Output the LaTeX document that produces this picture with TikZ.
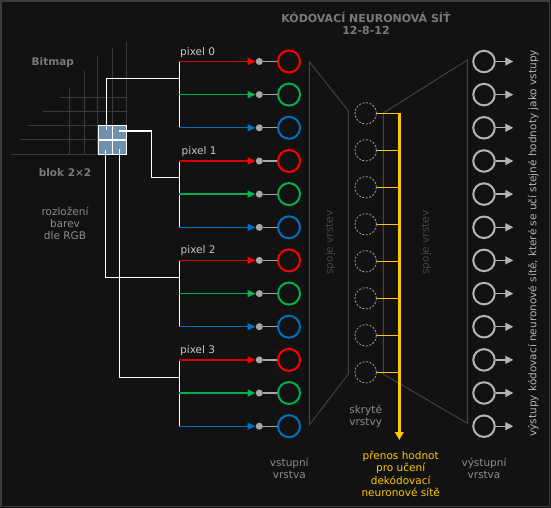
\documentclass[tikz,border=0pt]{standalone}
\usepackage{fontspec}
\setmainfont{DejaVu Sans}
\usetikzlibrary{arrows.meta}

\definecolor{bgc}{HTML}{121212}
\definecolor{framec}{HTML}{3C3C3C}
\definecolor{gridc}{HTML}{3A3A3A}
\definecolor{blockc}{HTML}{7090B0}
\definecolor{rc}{HTML}{FF0000}
\definecolor{gc}{HTML}{00B050}
\definecolor{bc}{HTML}{0070C0}
\definecolor{dotc}{HTML}{A8A8A8}
\definecolor{hidc}{HTML}{A0A0A0}
\definecolor{outc}{HTML}{B4B4B4}
\definecolor{trapc}{HTML}{444444}
\definecolor{yc}{HTML}{FFC800}
\definecolor{txtc}{HTML}{8C8C8C}

\begin{document}
\begin{tikzpicture}[x=1pt,y=-1pt,
  every node/.style={font=\fontsize{10.5pt}{12pt}\selectfont},
  inn/.style={circle, draw, line width=2pt, minimum size=22pt, inner sep=0pt},
  dot/.style={circle, fill=dotc, minimum size=7pt, inner sep=0pt},
  hid/.style={circle, draw=hidc, dash pattern=on 2pt off 1.6pt, line width=.8pt, minimum size=21.5pt, inner sep=0pt},
  outn/.style={circle, draw=outc, line width=2pt, minimum size=21.5pt, inner sep=0pt},
  blk/.style={rectangle, fill=blockc, draw=white, line width=1.2pt, minimum size=28.5pt, inner sep=0pt},
  wire/.style={white, line width=1.3pt},
  stub/.style={dotc, line width=1.2pt},
  rarr/.style={draw=rc!85!black, line width=1.3pt, -{Triangle[length=8pt,width=7pt,color=rc]}},
  garr/.style={draw=gc, line width=1.3pt, -{Triangle[length=8pt,width=7pt]}},
  barr/.style={draw=bc, line width=1.3pt, -{Triangle[length=8pt,width=7pt]}},
  oarr/.style={draw=outc, line width=1.3pt, -{Triangle[length=8pt,width=8pt]}},
  trap/.style={trapc, line width=.9pt},
  ybus/.style={yc, line width=2.7pt, -{Triangle[length=8pt,width=8.5pt]}},
  ytap/.style={yc, line width=1pt},
  pixl/.style={anchor=west, text=white!78!black, inner sep=0pt},
  lbl/.style={align=center, text=txtc, inner sep=0pt},
  bold/.style={text=white!48!black, font=\fontsize{10.5pt}{12.5pt}\selectfont\bfseries, align=center, inner sep=0pt},
  spj/.style={text=trapc, inner sep=0pt}]

 \useasboundingbox (0,0) rectangle (551,508);
 \fill[bgc] (0,0) rectangle (551,508);
 \draw[framec, line width=1.5pt] (1,1) rectangle (549.5,506.5);

 \node (ttl) [bold, font=\fontsize{11pt}{12pt}\selectfont\bfseries] at (366,23) {KÓDOVACÍ NEURONOVÁ SÍŤ\\12-8-12};
 \node (bmp) [bold] at (52.8,62.3) {Bitmap};
 \node (blok) [bold] at (65,173) {blok 2×2};
 \node (rgb) [lbl] at (65,223.5) {rozložení\\barev\\dle RGB};

 \draw[gridc, line width=1pt] (60,97.3) -- (126.7,97.3) (43,111.7) -- (126.7,111.7)
   (28,125.7) -- (98,125.7) (20,139.3) -- (98,139.3) (11,154.3) -- (98,154.3)
   (69.3,88) -- (69.3,154.3) (84.7,71) -- (84.7,154.3) (97.3,56) -- (97.3,154.3)
   (112.3,48) -- (112.3,125.7) (126.3,41.7) -- (126.3,125.7);

 \coordinate (p0) at (179.3,78.7);
 \coordinate (p1) at (179.3,177.3);
 \coordinate (p2) at (179.3,277.3);
 \coordinate (p3) at (179.3,377.7);
 \coordinate (q0) at (106.3,130);
 \coordinate (q1) at (119.3,131);
 \coordinate (q2) at (105.7,150);
 \coordinate (q3) at (119.3,149.3);
 \coordinate (k1) at (151.7,131);

 \node (blk) [blk] at (112.5,140) {};
 \draw[white, line width=1.2pt] (blk.north) -- (blk.south) (blk.west) -- (blk.east);
 \draw[wire] (q0) |- (p0);
 \draw[wire] (q1) -- (k1) |- (p1);
 \draw[wire] (q2) |- (p2);
 \draw[wire] (q3) |- (p3);

 \node (i0) [inn, draw=rc] at (289,61.5) {};
 \node (i1) [inn, draw=gc] at (289,94.6) {};
 \node (i2) [inn, draw=bc] at (289,127.8) {};
 \node (i3) [inn, draw=rc] at (289,161) {};
 \node (i4) [inn, draw=gc] at (289,194.1) {};
 \node (i5) [inn, draw=bc] at (289,227.3) {};
 \node (i6) [inn, draw=rc] at (289,260.4) {};
 \node (i7) [inn, draw=gc] at (289,293.6) {};
 \node (i8) [inn, draw=bc] at (289,326.7) {};
 \node (i9) [inn, draw=rc] at (289,359.9) {};
 \node (i10) [inn, draw=gc] at (289,393) {};
 \node (i11) [inn, draw=bc] at (289,426.2) {};

 \node (d0) [dot] at (259.3,61.5) {};
 \node (d1) [dot] at (259.3,94.6) {};
 \node (d2) [dot] at (259.3,127.8) {};
 \node (d3) [dot] at (259.3,161) {};
 \node (d4) [dot] at (259.3,194.1) {};
 \node (d5) [dot] at (259.3,227.3) {};
 \node (d6) [dot] at (259.3,260.4) {};
 \node (d7) [dot] at (259.3,293.6) {};
 \node (d8) [dot] at (259.3,326.7) {};
 \node (d9) [dot] at (259.3,359.9) {};
 \node (d10) [dot] at (259.3,393) {};
 \node (d11) [dot] at (259.3,426.2) {};

 \draw[stub] (d0) -- (i0) (d1) -- (i1) (d2) -- (i2) (d3) -- (i3) (d4) -- (i4) (d5) -- (i5);
 \draw[stub] (d6) -- (i6) (d7) -- (i7) (d8) -- (i8) (d9) -- (i9) (d10) -- (i10) (d11) -- (i11);

 \draw[wire] (i0 -| p0) -- (i2 -| p0);
 \draw[wire] (i3 -| p1) -- (i5 -| p1);
 \draw[wire] (i6 -| p2) -- (i8 -| p2);
 \draw[wire] (i9 -| p3) -- (i11 -| p3);

 \draw[rarr] (i0 -| p0) -- (d0);
 \draw[garr] (i1 -| p0) -- (d1);
 \draw[barr] (i2 -| p0) -- (d2);
 \draw[rarr] (i3 -| p1) -- (d3);
 \draw[garr] (i4 -| p1) -- (d4);
 \draw[barr] (i5 -| p1) -- (d5);
 \draw[rarr] (i6 -| p2) -- (d6);
 \draw[garr] (i7 -| p2) -- (d7);
 \draw[barr] (i8 -| p2) -- (d8);
 \draw[rarr] (i9 -| p3) -- (d9);
 \draw[garr] (i10 -| p3) -- (d10);
 \draw[barr] (i11 -| p3) -- (d11);

 \node (px0) [pixl] at (180,52.3) {pixel 0};
 \node (px1) [pixl] at (181.5,151.3) {pixel 1};
 \node (px2) [pixl] at (180.5,250.7) {pixel 2};
 \node (px3) [pixl] at (180,351) {pixel 3};

 \draw[trap] (309.3,61.7) -- (348.3,110.7) -- (348.3,374) -- (309.3,425) -- cycle;
 \draw[trap] (383.3,113) -- (467.3,60) -- (467.3,423.3) -- (383.3,374) -- cycle;
 \node (sp0) [spj, rotate=90] at (330,242.5) {spoje vrstev};
 \node (sp1) [spj, rotate=90] at (426,242.5) {spoje vrstev};

 \node (h0) [hid] at (365.7,113.3) {};
 \node (h1) [hid] at (365.7,150.3) {};
 \node (h2) [hid] at (365.7,187.3) {};
 \node (h3) [hid] at (365.7,224.3) {};
 \node (h4) [hid] at (365.7,261.3) {};
 \node (h5) [hid] at (365.7,298.3) {};
 \node (h6) [hid] at (365.7,335.3) {};
 \node (h7) [hid] at (365.7,372.3) {};

 \coordinate (yt) at (399.3,113.3);
 \coordinate (yb) at (399.3,440);
 \draw[ytap] (h0) -- (h0 -| yt) (h1) -- (h1 -| yt) (h2) -- (h2 -| yt) (h3) -- (h3 -| yt);
 \draw[ytap] (h4) -- (h4 -| yt) (h5) -- (h5 -| yt) (h6) -- (h6 -| yt) (h7) -- (h7 -| yt);
 \draw[ybus] (yt) -- (yb);

 \node (o0) [outn] at (484,61.5) {};
 \node (o1) [outn] at (484,94.6) {};
 \node (o2) [outn] at (484,127.8) {};
 \node (o3) [outn] at (484,161) {};
 \node (o4) [outn] at (484,194.1) {};
 \node (o5) [outn] at (484,227.3) {};
 \node (o6) [outn] at (484,260.4) {};
 \node (o7) [outn] at (484,293.6) {};
 \node (o8) [outn] at (484,326.7) {};
 \node (o9) [outn] at (484,359.9) {};
 \node (o10) [outn] at (484,393) {};
 \node (o11) [outn] at (484,426.2) {};

 \coordinate (ox) at (513.3,0);
 \draw[oarr] (o0) -- (o0 -| ox);
 \draw[oarr] (o1) -- (o1 -| ox);
 \draw[oarr] (o2) -- (o2 -| ox);
 \draw[oarr] (o3) -- (o3 -| ox);
 \draw[oarr] (o4) -- (o4 -| ox);
 \draw[oarr] (o5) -- (o5 -| ox);
 \draw[oarr] (o6) -- (o6 -| ox);
 \draw[oarr] (o7) -- (o7 -| ox);
 \draw[oarr] (o8) -- (o8 -| ox);
 \draw[oarr] (o9) -- (o9 -| ox);
 \draw[oarr] (o10) -- (o10 -| ox);
 \draw[oarr] (o11) -- (o11 -| ox);

 \node (vin) [lbl] at (289.3,468) {vstupní\\vrstva};
 \node (vhid) [lbl] at (365.7,416) {skryté\\vrstvy};
 \node (vout) [lbl] at (484,468) {výstupní\\vrstva};
 \node (ytxt) [lbl, text=yc, font=\fontsize{10.5pt}{12.5pt}\selectfont] at (400.7,473.8) {přenos hodnot\\pro učení\\dekódovací\\neuronové sítě};
 \node (vys) [lbl, text=outc, rotate=90] at (533.3,243.3) {výstupy kódovací neuronové sítě, které se učí stejné hodnoty jako vstupy};
\end{tikzpicture}
\end{document}
